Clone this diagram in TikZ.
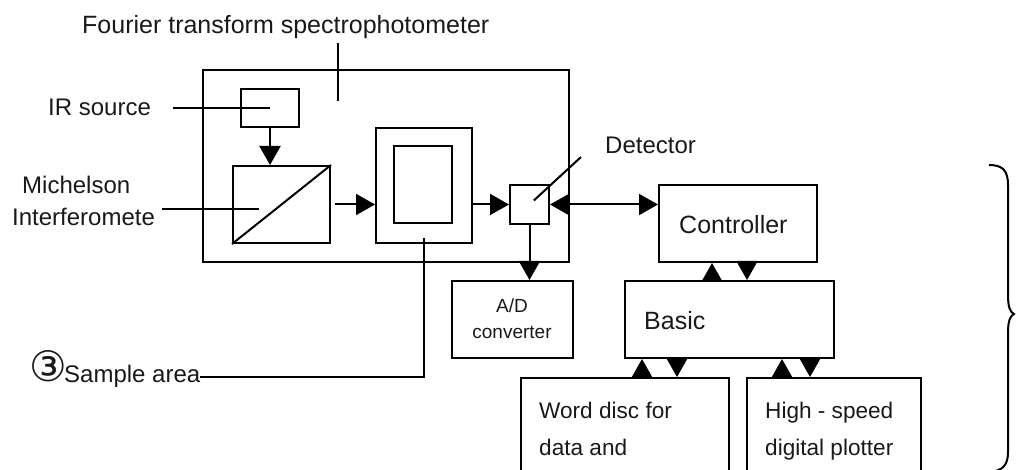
\documentclass[tikz,border=0pt]{standalone}
\usepackage{fontspec}
\setmainfont{Liberation Sans}
\newfontfamily\symfont{DejaVu Sans}
\usetikzlibrary{arrows.meta}
\newcommand{\FS}[1]{\fontsize{#1}{#1}\selectfont}

\begin{document}
\begin{tikzpicture}[x=1pt,y=-1pt]
\tikzstyle{blk}=[draw,line width=2pt,inner sep=0pt]
\tikzstyle{txt}=[inner sep=0pt,anchor=base west,black!90]
\tikzstyle{line}=[line width=2pt]
\tikzstyle{arr}=[line width=2pt,-{Triangle[length=19pt,width=21pt]}]
\tikzstyle{darr}=[line width=2pt,{Triangle[length=19pt,width=21pt]}-{Triangle[length=19pt,width=21pt]}]

\useasboundingbox (0,0) rectangle (1018,470);

% boxes
\node[blk,minimum width=366pt,minimum height=192pt] (ftir)  at (386,166)     {};
\node[blk,minimum width=58pt, minimum height=38pt]  (irsrc) at (270,108)     {};
\node[blk,minimum width=97pt, minimum height=77pt]  (mich)  at (281.5,204.5) {};
\node[blk,minimum width=96pt, minimum height=115pt] (sampo) at (424,185.5)   {};
\node[blk,minimum width=58pt, minimum height=77pt]  (sampi) at (423,184.5)   {};
\node[blk,minimum width=39pt, minimum height=39pt]  (det)   at (529.5,204.5) {};
\node[blk,minimum width=121pt,minimum height=77pt]  (adc)   at (512.5,319.5) {};
\node[blk,minimum width=158pt,minimum height=77pt]  (ctrl)  at (738,223.5)   {};
\node[blk,minimum width=209pt,minimum height=77pt]  (basic) at (729.5,319.5) {};
\node[blk,minimum width=208pt,minimum height=112pt] (disc)  at (625,434)     {};
\node[blk,minimum width=174pt,minimum height=112pt] (plot)  at (834,434)     {};

\draw[line] (mich.south west) -- (mich.north east);

% texts
\node[txt,font=\FS{25}] (title) at (82,34)  {Fourier transform spectrophotometer};
\node[txt,font=\FS{24}] (irlbl) at (48,116) {IR source};
\node[txt,font=\FS{24}] (michlbl) at (22,194) {Michelson};
\node[txt,font=\FS{24}] (intlbl)  at (12,226) {Interferomete};
\node[txt,font=\FS{24}] (detlbl)  at (605,154) {Detector};
\node[txt,font=\FS{25}] (ctrllbl) at (679,234) {Controller};
\node[txt,font=\FS{25}] (baslbl)  at (644,330) {Basic};
\node[txt,font=\FS{19},anchor=base] (adlbl)  at (512,313) {A/D};
\node[txt,font=\FS{19},anchor=base] (cnvlbl) at (512,339) {converter};
\node[txt,font=\FS{22.6}] (disclbl) at (539,418) {Word disc for};
\node[txt,font=\FS{22.6}] (datalbl) at (539,455) {data and};
\node[txt,font=\FS{22.6}] (hslbl)   at (765,418) {High - speed};
\node[txt,font=\FS{22.6}] (dplbl)   at (765,455) {digital plotter};
\node[txt,font=\symfont\FS{42}] (num) at (29,382) {③};
\node[txt,font=\FS{24}] (samplbl) at (64,383) {Sample area};

% leader lines
\coordinate (ftip)   at (338,101);
\coordinate (michtip) at (259,209);
\coordinate (dettip) at (581,157);
\draw[line] (ftip |- 0,43) -- (ftip);
\draw[line,shorten <=22pt] (irlbl.east |- irsrc.center) -- (irsrc.center);
\draw[line,shorten <=7pt] (intlbl.east |- michtip) -- (michtip);
\draw[line,shorten <=6pt] (det.center) -- (dettip);
\draw[line] (samplbl.east |- 0,377) -| ([yshift=6pt]sampo.south);

% signal path
\draw[arr] (irsrc.south) -- (irsrc.south |- mich.north);
\draw[arr,shorten <=4pt] (mich.east) -- (sampo.west |- mich.east);
\draw[arr] (sampo.east |- det.west) -- (det.west);
\draw[darr] (det.east) -- (det.east -| ctrl.west);
\draw[arr] (det.south) -- (det.south |- adc.north);
\draw[arr] ([xshift=-17.5pt]basic.north) -- ([xshift=-17.5pt]basic.north |- ctrl.south);
\draw[arr] ([xshift=17.5pt]ctrl.south -| basic.north) -- ([xshift=17.5pt]basic.north);
\draw[arr] ([xshift=17pt]disc.north) -- ([xshift=17pt]disc.north |- basic.south);
\draw[arr] ([xshift=52pt]disc.north |- basic.south) -- ([xshift=52pt]disc.north);
\draw[arr] ([xshift=-52pt]plot.north) -- ([xshift=-52pt]plot.north |- basic.south);
\draw[arr] ([xshift=-24pt]plot.north |- basic.south) -- ([xshift=-24pt]plot.north);

% brace
\draw[line] (989,165) .. controls (1003,165) and (1008,171) .. (1008,185)
  -- (1008,295) .. controls (1008,307) and (1010,312) .. (1014,314)
  .. controls (1010,316) and (1008,321) .. (1008,333)
  -- (1008,452) .. controls (1008,465) and (1003,471) .. (989,472);
\end{tikzpicture}
\end{document}
